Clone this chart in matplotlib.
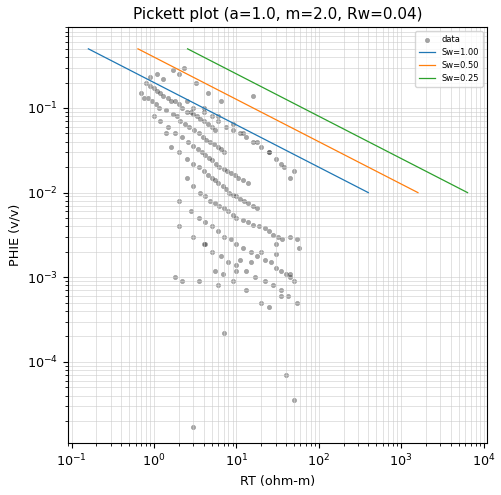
import matplotlib
matplotlib.use("Agg")
import matplotlib.pyplot as plt
import numpy as np

a, m, n, Rw = 1.0, 2.0, 2.0, 0.04
sw_values = [1.00, 0.50, 0.25]
phi_line = [0.01, 0.5]

rt = [0.8,0.9,1.0,1.1,1.2,1.3,1.5,1.6,1.8,2.0,2.2,2.5,2.8,3.0,3.3,3.6,4.0,4.5,5.0,5.5,
      0.7,0.85,0.95,1.05,1.15,1.4,1.7,1.9,2.1,2.4,2.7,3.1,3.5,3.9,4.3,4.8,5.3,6.0,6.5,7.0,
      1.2,1.5,1.8,2.2,2.6,3.0,3.4,3.8,4.2,4.6,5.0,5.6,6.2,7.0,7.8,8.5,9.5,10.5,12,14,
      1.6,2.0,2.5,3.0,3.5,4.0,4.5,5.0,5.5,6.0,6.8,7.5,8.2,9.0,10,11,12.5,14,16,18,
      2.5,3.0,3.6,4.2,4.8,5.5,6.2,7.0,8.0,9.0,10,12,14,16,19,22,25,28,32,36,
      2.0,2.8,3.5,4.2,5.0,6.0,7.0,8.5,10,12,15,18,22,26,30,35,40,45,50,
      3.0,4.0,5.0,6.0,7.5,9.0,11,13,16,20,25,30,38,45,
      2.0,3.0,4.0,5.0,6.5,8.0,10,13,17,22,28,35,42,
      2.5,4.0,6.0,9.0,12,18,25,35,50,
      1.8,3.5,6.0,10,15,20,30,45,55,58,
      0.9,1.3,2.0,1.1,1.7,2.3,1.0,1.4,0.75,3.2,4.5,6.5,
      7,3,40,50,25,20,55,45,35,13,9,5.5,2.2,11,30,16,4.2,6.8]
phie = [0.2,0.18,0.17,0.16,0.15,0.14,0.13,0.12,0.12,0.11,0.1,0.09,0.09,0.085,0.08,0.075,0.07,0.065,0.06,0.055,
        0.15,0.13,0.12,0.11,0.1,0.095,0.085,0.08,0.07,0.065,0.06,0.055,0.05,0.045,0.042,0.04,0.038,0.035,0.033,0.03,
        0.07,0.06,0.05,0.045,0.04,0.036,0.033,0.03,0.028,0.026,0.024,0.022,0.02,0.019,0.018,0.017,0.016,0.015,0.014,0.013,
        0.035,0.03,0.025,0.022,0.02,0.018,0.016,0.015,0.014,0.013,0.012,0.011,0.01,0.0095,0.009,0.0085,0.008,0.0075,0.007,0.0065,
        0.015,0.012,0.01,0.009,0.008,0.0075,0.007,0.0065,0.006,0.0055,0.005,0.0048,0.0045,0.0042,0.004,0.0038,0.0035,0.0032,0.003,0.0028,
        0.008,0.006,0.005,0.0045,0.004,0.0035,0.003,0.0028,0.0025,0.0022,0.002,0.0018,0.0016,0.0015,0.0013,0.0012,0.0011,0.001,0.0009,
        0.1,0.09,0.08,0.07,0.06,0.055,0.05,0.045,0.04,0.035,0.03,0.025,0.02,0.015,
        0.004,0.003,0.0025,0.002,0.0018,0.0015,0.0014,0.0012,0.001,0.0009,0.0008,0.0007,0.0006,
        0.12,0.1,0.08,0.065,0.05,0.04,0.03,0.022,0.018,
        0.001,0.0009,0.0008,0.0012,0.0015,0.002,0.0025,0.003,0.0028,0.0022,
        0.23,0.22,0.25,0.25,0.28,0.3,0.08,0.05,0.13,0.2,0.15,0.12,
        0.00022,0.000017,0.00007,0.000035,0.00045,0.0005,0.0005,0.0011,0.0006,0.0007,0.0009,0.0012,0.0009,0.0016,0.0019,0.14,0.0025,0.0011]

plt.rcParams["font.size"] = 9.2
fig, ax = plt.subplots(figsize=(5.02, 4.95), dpi=100)
ax.scatter(rt, phie, s=10, c="black", alpha=0.35, label="data", linewidths=0.5, edgecolors="#555555")
for sw in sw_values:
    phi = np.array(phi_line)
    r = a * Rw / (phi ** m * sw ** n)
    ax.plot(r, phi, lw=0.9, label=f"Sw={sw:.2f}")
ax.set_xscale("log")
ax.set_yscale("log")
ax.set_xlim(0.09, 11000)
ax.set_ylim(1.1e-5, 0.9)
ax.grid(True, which="both", color="#cccccc", lw=0.5, alpha=0.8)
ax.set_xlabel("RT (ohm-m)")
ax.set_ylabel("PHIE (v/v)")
ax.set_title("Pickett plot (a=1.0, m=2.0, Rw=0.04)", fontsize=11)
ax.legend(loc="upper right", fontsize=6)
fig.subplots_adjust(left=0.135, right=0.97, top=0.945, bottom=0.105)
fig.savefig("out.png", dpi=100)
